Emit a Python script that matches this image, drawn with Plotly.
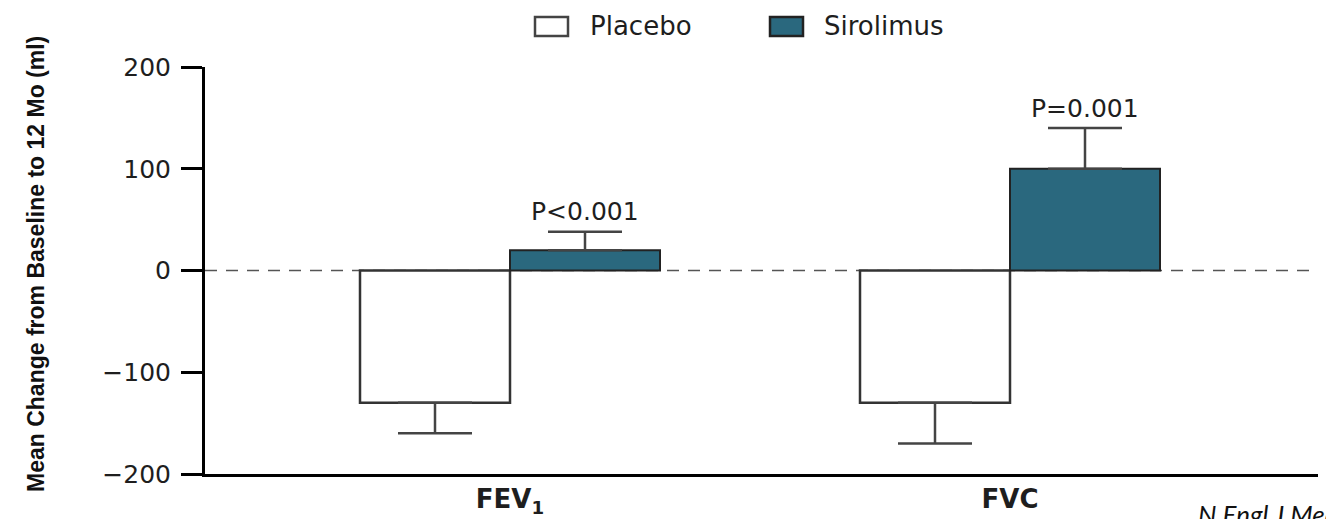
import plotly.graph_objects as go

# ---------------- data ----------------
categories = ["<b>FEV<sub>1</sub></b>", "<b>FVC</b>"]
placebo_mean = [-130, -130]
placebo_err = [30, 40]
sirolimus_mean = [20, 100]
sirolimus_err = [18, 40]
p_labels = ["P<0.001", "P=0.001"]
y_ticks = [-200, -100, 0, 100, 200]
series_names = ["Placebo", "Sirolimus"]

# ---------------- layout constants ----------------
W, H = 1326, 519
L, R, T, B = 205, 8, 67, 45
PW, PH = W - L - R, H - T - B

def px_x(px):
    return (px - L) / PW

def px_y(py):
    return (H - B - py) / PH

TEAL = "#2a687e"
EDGE = "#333333"
TXT = "#1e1e1e"
BARGAP = 0.4
bar_w = (1 - BARGAP) / 2

x_idx = list(range(len(categories)))

fig = go.Figure()
fig.add_trace(go.Bar(
    x=x_idx, y=placebo_mean, name=series_names[0], offsetgroup="p",
    marker=dict(color="white", line=dict(color=EDGE, width=2.5)),
    error_y=dict(type="data", symmetric=False, array=[0] * len(placebo_err),
                 arrayminus=placebo_err, color="#444444", thickness=2.5, width=37),
    showlegend=False,
))
fig.add_trace(go.Bar(
    x=x_idx, y=sirolimus_mean, name=series_names[1], offsetgroup="s",
    marker=dict(color=TEAL, line=dict(color="#222222", width=2)),
    error_y=dict(type="data", symmetric=False, array=sirolimus_err,
                 arrayminus=[0] * len(sirolimus_err), color="#444444", thickness=2.5, width=37),
    showlegend=False,
))

annotations = []
for i, (m, e, lab) in enumerate(zip(sirolimus_mean, sirolimus_err, p_labels)):
    annotations.append(dict(
        x=i + bar_w / 2, y=m + e, xref="x", yref="y", text=lab, showarrow=False,
        yanchor="middle", yshift=20,
        font=dict(family="DejaVu Sans", size=25, color=TXT),
    ))

# y-axis title
annotations.append(dict(
    x=px_x(36), y=px_y(264), xref="paper", yref="paper",
    text="<b>Mean Change from Baseline to 12 Mo (ml)</b>", textangle=-90,
    showarrow=False, xanchor="center", yanchor="middle",
    font=dict(family="Liberation Sans, Arial, sans-serif", size=23, color="#111111"),
))

# custom legend
shapes = []
legend_items = [(535, 588, "white", "#444444"), (770, 822, TEAL, "#222222")]
for (x0, xt, fill, edge), name in zip(legend_items, series_names):
    shapes.append(dict(type="rect", xref="paper", yref="paper",
                       x0=px_x(x0), x1=px_x(x0 + 33), y0=px_y(36), y1=px_y(17),
                       fillcolor=fill, line=dict(color=edge, width=2.5)))
    annotations.append(dict(x=px_x(xt), y=px_y(26), xref="paper", yref="paper",
                            text=name, showarrow=False, xanchor="left", yanchor="middle",
                            font=dict(family="DejaVu Sans", size=26, color=TXT)))

# source note
annotations.append(dict(x=px_x(1196), y=px_y(514), xref="paper", yref="paper",
                        text="<i>N Engl J Med</i>", showarrow=False,
                        xanchor="left", yanchor="middle",
                        font=dict(family="Lato, Open Sans, sans-serif", size=26, color="#111111")))

# dashed zero line
shapes.append(dict(type="line", xref="paper", yref="y", x0=0, x1=1, y0=0, y1=0,
                   line=dict(color="#555555", width=1.6, dash="12px,9px"), layer="below"))

fig.update_layout(
    template="none",
    width=W, height=H,
    margin=dict(l=L, r=R, t=T, b=B, pad=0, autoexpand=False),
    paper_bgcolor="white", plot_bgcolor="white",
    barmode="group", bargap=BARGAP, bargroupgap=0,
    showlegend=False,
    annotations=annotations, shapes=shapes,
    xaxis=dict(range=[-0.61, 1.616], tickvals=x_idx, ticktext=categories,
               showline=True, linecolor="black", linewidth=3, ticks="",
               showgrid=False, zeroline=False, automargin=False,
               tickfont=dict(family="DejaVu Sans", size=26, color=TXT)),
    yaxis=dict(range=[-200, 200], tickvals=y_ticks,
               showline=True, linecolor="black", linewidth=3,
               ticks="outside", ticklen=21, tickwidth=2.5, tickcolor="black",
               showgrid=False, zeroline=False, automargin=False, ticklabelstandoff=5,
               tickfont=dict(family="DejaVu Sans", size=25, color=TXT)),
)

fig.write_html("out.html", config={"displayModeBar": False},
               post_script="document.body.style.margin='0';document.body.style.overflow='hidden';")
